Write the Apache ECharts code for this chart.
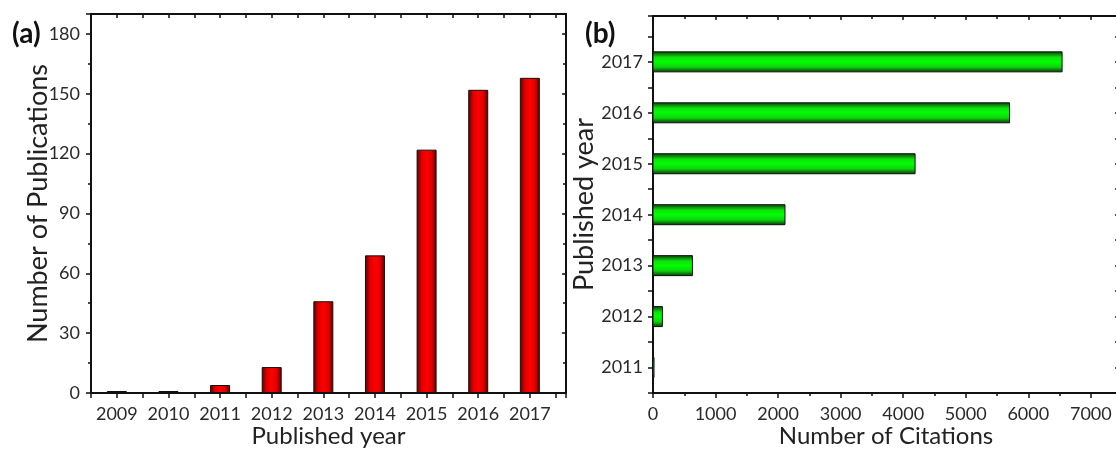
<!DOCTYPE html>
<html>
<head>
<meta charset="utf-8">
<script src="https://cdn.jsdelivr.net/npm/echarts@6/dist/echarts.min.js"></script>
<style>html,body{margin:0;padding:0;background:#fff}#c{width:1116px;height:449px}</style>
</head>
<body>
<div id="c"></div>
<script>
// ---- data ----
const pubYears = [2009, 2010, 2011, 2012, 2013, 2014, 2015, 2016, 2017];
const pubCounts = [1, 1, 4, 13, 46, 69, 122, 152, 158];
const citeYears = [2011, 2012, 2013, 2014, 2015, 2016, 2017];
const citeCounts = [15, 150, 630, 2110, 4190, 5700, 6540];

const FONT = 'Lato';
const INK = '#111';
const chart = echarts.init(document.getElementById('c'), null, {renderer: 'canvas'});

const redFill = new echarts.graphic.LinearGradient(0, 0, 1, 0, [
  {offset: 0, color: '#5a0000'}, {offset: 0.25, color: '#e00000'},
  {offset: 0.5, color: '#ff0000'}, {offset: 0.75, color: '#e00000'},
  {offset: 1, color: '#5a0000'}
]);
const greenFill = new echarts.graphic.LinearGradient(0, 0, 0, 1, [
  {offset: 0, color: '#063a06'}, {offset: 0.28, color: '#10e010'},
  {offset: 0.5, color: '#00ff00'}, {offset: 0.75, color: '#10d010'},
  {offset: 1, color: '#043004'}
]);

const intLabel = v => Math.abs(v - Math.round(v)) < 1e-6 ? String(Math.round(v)) : '';
const plainLabel = v => String(v);
const lineStyle = {color: INK, width: 2};
const labelStyle = {fontFamily: FONT, fontSize: 18, color: '#2a2a2a'};
const nameStyle = (s) => ({fontFamily: FONT, fontSize: s, color: '#222'});

function mirror(base, pos) {
  return Object.assign({}, base, {
    position: pos, name: '', axisLabel: {show: false},
    axisTick: {show: true, inside: true, length: 4, lineStyle: {color: INK, width: 1.5}},
    minorTick: base.minorTick ? Object.assign({}, base.minorTick, {length: 3}) : undefined
  });
}

// left panel axes
const ax0 = {
  type: 'value', gridIndex: 0, position: 'bottom', min: 2008.5, max: 2017.7, interval: 0.5,
  axisLine: {onZero: false, lineStyle}, splitLine: {show: false},
  axisTick: {length: 5, lineStyle: {color: INK, width: 1.5}},
  axisLabel: Object.assign({formatter: intLabel, margin: 12}, labelStyle),
  name: 'Published year', nameLocation: 'middle', nameGap: 31, nameMoveOverlap: false,
  nameTextStyle: nameStyle(24)
};
const ay0 = {
  type: 'value', gridIndex: 0, position: 'left', min: 0, max: 190, interval: 30,
  axisLine: {onZero: false, lineStyle}, splitLine: {show: false},
  axisTick: {length: 5, lineStyle: {color: INK, width: 1.5}},
  minorTick: {show: true, splitNumber: 2, length: 3, lineStyle: {color: INK, width: 1.5}},
  minorSplitLine: {show: false},
  axisLabel: Object.assign({margin: 11, showMaxLabel: false, formatter: plainLabel}, labelStyle),
  name: 'Number of Publications', nameLocation: 'middle', nameGap: 39, nameMoveOverlap: false,
  nameTextStyle: nameStyle(27)
};
// right panel axes
const ax1 = {
  type: 'value', gridIndex: 1, position: 'bottom', min: 0, max: 7450, interval: 1000,
  axisLine: {onZero: false, lineStyle}, splitLine: {show: false},
  axisTick: {length: 5, lineStyle: {color: INK, width: 1.5}},
  minorTick: {show: true, splitNumber: 2, length: 3, lineStyle: {color: INK, width: 1.5}},
  minorSplitLine: {show: false},
  axisLabel: Object.assign({margin: 12, showMaxLabel: false, formatter: plainLabel}, labelStyle),
  name: 'Number of Citations', nameLocation: 'middle', nameGap: 31, nameMoveOverlap: false,
  nameTextStyle: nameStyle(24)
};
const ay1 = {
  type: 'value', gridIndex: 1, position: 'left', min: 2010.5, max: 2017.9, interval: 0.5,
  axisLine: {onZero: false, lineStyle}, splitLine: {show: false},
  axisTick: {length: 5, lineStyle: {color: INK, width: 1.5}},
  axisLabel: Object.assign({formatter: intLabel, margin: 10}, labelStyle),
  name: 'Published year', nameLocation: 'middle', nameGap: 55, nameMoveOverlap: false,
  nameTextStyle: nameStyle(27)
};

const option = {
  backgroundColor: '#fff',
  animation: false,
  title: [
    {text: '(a)', left: 7, top: 15, textStyle: {fontFamily: FONT, fontWeight: 'bold', fontSize: 28, color: '#111'}},
    {text: '(b)', left: 580, top: 15, textStyle: {fontFamily: FONT, fontWeight: 'bold', fontSize: 28, color: '#111'}}
  ],
  grid: [
    {left: 91, top: 14, width: 475, bottom: 56, containLabel: false, outerBoundsMode: 'none'},
    {left: 653, top: 16, right: -3, bottom: 56, containLabel: false, outerBoundsMode: 'none'}
  ],
  xAxis: [ax0, mirror(ax0, 'top'), ax1, mirror(ax1, 'top')],
  yAxis: [ay0, mirror(ay0, 'right'), ay1, mirror(ay1, 'right')],
  series: [
    {
      type: 'bar', xAxisIndex: 0, yAxisIndex: 0, barWidth: 20,
      data: pubYears.map((y, i) => [y, pubCounts[i]]),
      itemStyle: {color: redFill, borderColor: INK, borderWidth: 1}
    },
    {
      type: 'custom', xAxisIndex: 2, yAxisIndex: 2,
      data: citeYears.map((y, i) => [citeCounts[i], y]),
      encode: {x: 0, y: 1},
      renderItem: function (params, api) {
        const y = api.value(1), v = api.value(0);
        const p0 = api.coord([0, y]);
        const p1 = api.coord([v, y]);
        const h = 20;
        return {
          type: 'rect',
          shape: {x: p0[0], y: p0[1] - h / 2, width: Math.max(p1[0] - p0[0], 1), height: h},
          style: {fill: greenFill, stroke: INK, lineWidth: 1}
        };
      }
    }
  ]
};
chart.setOption(option);
</script>
</body>
</html>
